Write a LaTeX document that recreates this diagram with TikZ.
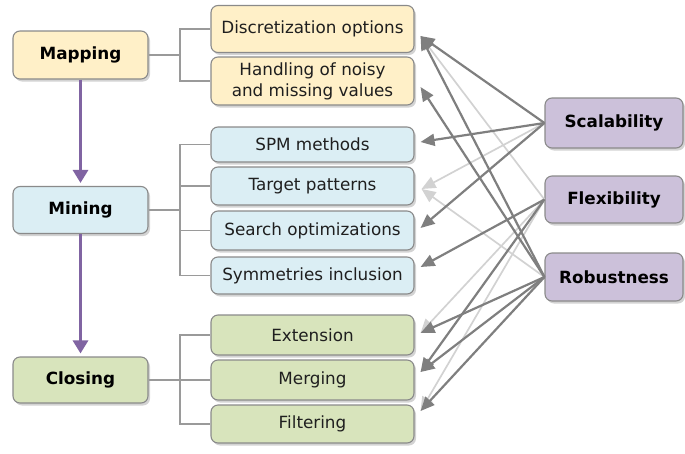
\documentclass[tikz,border=0pt]{standalone}
\usepackage{fontspec}
\setmainfont{DejaVu Sans}
\usetikzlibrary{shadows,arrows.meta,calc}
\definecolor{yelfill}{HTML}{FFF0C8}
\definecolor{bluefill}{HTML}{DBEEF4}
\definecolor{greenfill}{HTML}{D8E4BC}
\definecolor{purpfill}{HTML}{CCC1DA}
\definecolor{boxline}{HTML}{8A8A8A}
\definecolor{darkarr}{HTML}{7F7F7F}
\definecolor{lightarr}{HTML}{D2D2D2}
\definecolor{flowcol}{HTML}{8064A2}
\definecolor{brcol}{HTML}{9A9A9A}
\begin{document}
\begin{tikzpicture}[x=1pt,y=-1pt,
  box/.style={draw=boxline, line width=1.1pt, rounded corners=7pt,
    drop shadow={shadow xshift=2pt,shadow yshift=-2.5pt,opacity=0.35},
    inner sep=0pt, align=center, text=black!88,
    font=\fontsize{16.8}{21}\selectfont},
  phase/.style={box, minimum width=135pt, text=black,
    font=\fontsize{16.8}{21}\selectfont\bfseries},
  sub/.style={box, minimum width=203pt},
  prop/.style={box, minimum width=138pt, text=black,
    font=\fontsize{16.8}{21}\selectfont\bfseries, fill=purpfill},
  darka/.style={draw=darkarr, line width=2.2pt, -{Triangle[length=14pt,width=12pt]}, fill=darkarr},
  lighta/.style={draw=lightarr, line width=1.7pt, -{Triangle[length=14pt,width=12pt]}, fill=lightarr},
  flowa/.style={draw=flowcol, line width=3pt, -{Triangle[length=13pt,width=15pt]}, shorten >=3pt},
  br/.style={draw=brcol, line width=1.3pt}
]
\useasboundingbox (0,0) rectangle (685,453);

% left phases
\node[phase, fill=yelfill, minimum height=48pt] (map) at (80.5,55) {Mapping};
\node[phase, fill=bluefill, minimum height=47pt] (mine) at (80.5,210) {Mining};
\node[phase, fill=greenfill, minimum height=46pt] (close) at (80.5,380) {Closing};

% middle items
\node[sub, fill=yelfill, minimum height=47pt] (disc) at (312.5,29) {Discretization options};
\node[sub, fill=yelfill, minimum height=48pt] (hand) at (312.5,81) {Handling of noisy\\and missing values};
\node[sub, fill=bluefill, minimum height=35pt] (spm) at (312.5,144.5) {SPM methods};
\node[sub, fill=bluefill, minimum height=38pt] (targ) at (312.5,186) {Target patterns};
\node[sub, fill=bluefill, minimum height=39pt] (sear) at (312.5,230.5) {Search optimizations};
\node[sub, fill=bluefill, minimum height=37pt] (symm) at (312.5,275.5) {Symmetries inclusion};
\node[sub, fill=greenfill, minimum height=40pt] (ext) at (312.5,335) {Extension};
\node[sub, fill=greenfill, minimum height=40pt] (merg) at (312.5,380) {Merging};
\node[sub, fill=greenfill, minimum height=38pt] (filt) at (312.5,424) {Filtering};

% right properties
\node[prop, minimum height=50pt] (scal) at (614,123) {Scalability};
\node[prop, minimum height=47pt] (flex) at (614,199.5) {Flexibility};
\node[prop, minimum height=48pt] (rob) at (614,277) {Robustness};

% arrow tip points
\coordinate (discT) at ($(disc.east)+(6,7)$);
\coordinate (handT) at ($(hand.east)+(6,6)$);
\coordinate (spmT) at ($(spm.east)+(6,-2.5)$);
\coordinate (targT) at ($(targ.east)+(7,3)$);
\coordinate (searT) at ($(sear.east)+(6,-2.5)$);
\coordinate (symmT) at ($(symm.east)+(6,-8.5)$);
\coordinate (extT) at ($(ext.east)+(6,-2)$);
\coordinate (mergT) at ($(merg.east)+(6,-8)$);
\coordinate (filtT) at ($(filt.east)+(6,-13)$);

% flow arrows
\draw[flowa] (map.south) -- (mine.north);
\draw[flowa] (mine.south) -- (close.north);

% brackets
\coordinate (mapJ) at ($(map.east)+(31.5,0)$);
\coordinate (mineJ) at ($(mine.east)+(31.5,0)$);
\coordinate (closeJ) at ($(close.east)+(31.5,0)$);
\draw[br] (map.east) -- (mapJ) (mapJ) |- (disc.west) (mapJ) |- (hand.west);
\draw[br] (mine.east) -- (mineJ) (mineJ) |- (spm.west) (mineJ) |- (targ.west)
  (mineJ) |- (sear.west) (mineJ) |- (symm.west);
\draw[br] (close.east) -- (closeJ) (closeJ) |- (ext.west) (closeJ) |- (merg.west)
  (closeJ) |- (filt.west);

% light arrows
\draw[lighta] (scal.west) -- (targT);
\draw[lighta] (rob.west) -- (targT);
\draw[lighta] (flex.west) -- (discT);
\draw[lighta] (flex.west) -- (extT);
\draw[lighta] (flex.west) -- (filtT);

% dark arrows
\draw[darka] (scal.west) -- (discT);
\draw[darka] (scal.west) -- (spmT);
\draw[darka] (scal.west) -- (searT);
\draw[darka] (flex.west) -- (symmT);
\draw[darka] (flex.west) -- (mergT);
\draw[darka] (rob.west) -- (discT);
\draw[darka] (rob.west) -- (handT);
\draw[darka] (rob.west) -- (extT);
\draw[darka] (rob.west) -- (mergT);
\draw[darka] (rob.west) -- (filtT);
\end{tikzpicture}
\end{document}
